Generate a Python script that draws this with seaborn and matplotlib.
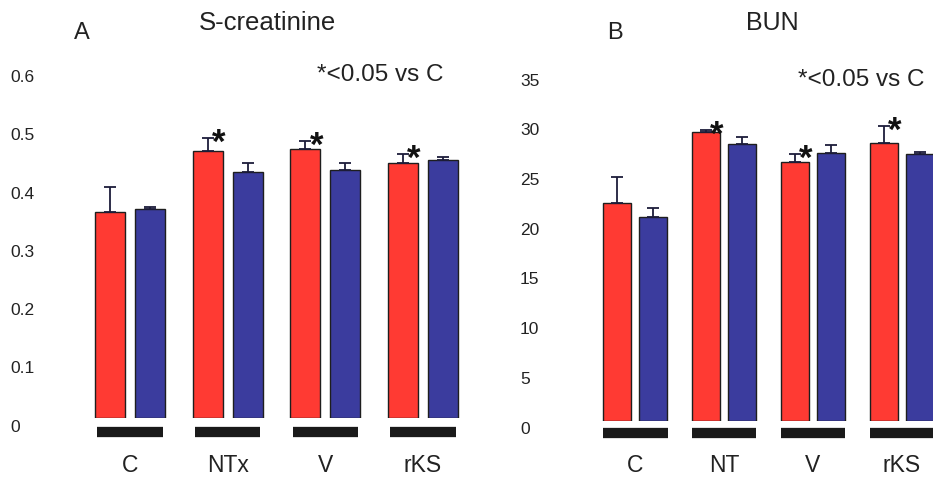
import matplotlib
matplotlib.use("Agg")
import matplotlib.pyplot as plt
from matplotlib.transforms import ScaledTranslation, blended_transform_factory
import numpy as np
import pandas as pd
import seaborn as sns

# ---- data -------------------------------------------------------------
groups_a = ["C", "NTx", "V", "rKS"]
groups_b = ["C", "NT", "V", "rKS"]
series = ["first", "second"]

creat_first = [0.354, 0.459, 0.462, 0.438]
creat_first_err = [0.043, 0.022, 0.014, 0.016]
creat_second = [0.359, 0.423, 0.426, 0.443]
creat_second_err = [0.004, 0.015, 0.012, 0.005]
creat_sig = [False, True, True, True]

bun_first = [21.9, 29.1, 26.1, 28.0]
bun_first_err = [2.6, 0.2, 0.8, 1.7]
bun_second = [20.5, 27.9, 27.0, 26.9]
bun_second_err = [0.9, 0.7, 0.8, 0.2]
bun_sig = [False, True, True, True]

creat_ticks = [0, 0.1, 0.2, 0.3, 0.4, 0.5, 0.6]
creat_tick_labels = ["0", "0.1", "0.2", "0.3", "0.4", "0.5", "0.6"]
bun_ticks = [0, 5, 10, 15, 20, 25, 30, 35]
bun_tick_labels = ["0", "5", "10", "15", "20", "25", "30", "35"]

# ---- style ------------------------------------------------------------
sns.set_style("white")
plt.rcParams["font.family"] = ["Liberation Sans", "DejaVu Sans"]

RED = "#ff3a33"
BLUE = "#3b3c9e"
palette = {"first": RED, "second": BLUE}

W, H = 933, 478
fig = plt.figure(figsize=(W / 100, H / 100), dpi=100)


def px_axes(left, right, bottom, height):
    return fig.add_axes([left / W, (H - bottom) / H, (right - left) / W, height / H])


def frame(groups, first, second):
    return pd.DataFrame({
        "group": groups * 2,
        "series": [series[0]] * len(groups) + [series[1]] * len(groups),
        "value": list(first) + list(second),
    })


def panel(ax, groups, first, first_err, second, second_err, sig, ticks, tick_labels,
          ylim, xlim, gap, bar_half, bar_drop, label_drop, label_pad):
    df = frame(groups, first, second)
    sns.barplot(data=df, x="group", y="value", hue="series", order=groups,
                hue_order=series, palette=palette, width=0.82, gap=gap,
                errorbar=None, legend=False, edgecolor="#1e1e1e", linewidth=1.0,
                saturation=1, ax=ax)
    ax.set_xlim(*xlim)
    ax.set_ylim(*ylim)

    # one-sided error bars from each bar top
    for cont, errs in zip(ax.containers, [first_err, second_err]):
        xs = [b.get_x() + b.get_width() / 2 for b in cont]
        ys = [b.get_height() for b in cont]
        ax.errorbar(xs, ys, yerr=[np.zeros(len(errs)), errs], fmt="none",
                    ecolor="#1c1c3a", elinewidth=1.3, capsize=4.2, capthick=1.3,
                    zorder=1)

    # significance marks next to the first-series error bars
    for bar, err, s in zip(ax.containers[0], first_err, sig):
        if s:
            ax.annotate("*", (bar.get_x() + bar.get_width() / 2, bar.get_height() + err),
                        xytext=(8, -4), textcoords="offset points",
                        ha="center", va="center", fontsize=25, fontweight="bold",
                        color="#111111")

    # thick group bars under the baseline
    drop = ax.transData + ScaledTranslation(0, -bar_drop / 100, fig.dpi_scale_trans)
    for i in range(len(groups)):
        ax.plot([i - bar_half, i + bar_half], [0, 0], color="#1a1a1a", lw=7.4,
                solid_capstyle="butt", transform=drop, clip_on=False)

    # y labels, left aligned
    lab_tr = blended_transform_factory(ax.transAxes, ax.transData) + \
        ScaledTranslation(-70 / 100, -label_drop / 100, fig.dpi_scale_trans)
    for t, lab in zip(ticks, tick_labels):
        ax.text(0, t, lab, transform=lab_tr, ha="left", va="center",
                fontsize=12.5, color="#222222")
    ax.set_yticks([])

    ax.set_xticks(range(len(groups)))
    ax.set_xticklabels(groups, fontsize=16.5, color="#222222")
    ax.tick_params(axis="x", length=0, pad=label_pad)
    ax.set_xlabel("")
    ax.set_ylabel("")
    sns.despine(ax=ax, left=True, bottom=True)


ax_a = px_axes(80, 470, 418, 378.3)
panel(ax_a, groups_a, creat_first, creat_first_err, creat_second, creat_second_err,
      creat_sig, creat_ticks, creat_tick_labels, (0, 0.65), (-0.512, 3.481),
      0.25, 0.333, 14, 9, 26)

ax_b = px_axes(590, 960, 421, 377.7)
panel(ax_b, groups_b, bun_first, bun_first_err, bun_second, bun_second_err,
      bun_sig, bun_ticks, bun_tick_labels, (0, 38), (-0.506, 3.652),
      0.23, 0.365, 11.5, 8, 24)

# panel letters, titles and the significance note
def ftext(x, y, s, **kw):
    fig.text(x / W, 1 - y / H, s, va="center", color="#222222", **kw)

ftext(82, 33, "A", ha="center", fontsize=17)
ftext(267, 23, "S-creatinine", ha="center", fontsize=18.5)
ftext(317, 75, "*<0.05 vs C", ha="left", fontsize=17.5)
ftext(615, 33, "B", ha="center", fontsize=17)
ftext(772, 23, "BUN", ha="center", fontsize=18)
ftext(798, 80, "*<0.05 vs C", ha="left", fontsize=17.5)

fig.savefig("out.png", dpi=100)
